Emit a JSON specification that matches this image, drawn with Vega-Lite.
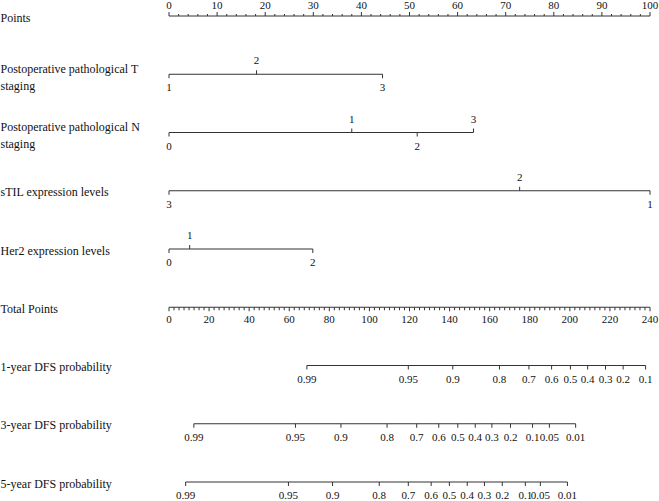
{
  "$schema": "https://vega.github.io/schema/vega-lite/v6.json",
  "width": 481,
  "height": 466,
  "autosize": "none",
  "padding": {"left": 169, "top": 16, "right": 9, "bottom": 19},
  "config": {
    "view": {"stroke": null},
    "font": "Liberation Serif",
    "text": {"font": "Liberation Serif", "fontSize": 11, "color": "#111"},
    "rule": {"color": "#333", "strokeWidth": 1}
  },
  "datasets": {
    "pointsAxis": [
      {"p": 0}, {"p": 2}, {"p": 4}, {"p": 6}, {"p": 8}, {"p": 10}, {"p": 12}, {"p": 14}, {"p": 16}, {"p": 18},
      {"p": 20}, {"p": 22}, {"p": 24}, {"p": 26}, {"p": 28}, {"p": 30}, {"p": 32}, {"p": 34}, {"p": 36}, {"p": 38},
      {"p": 40}, {"p": 42}, {"p": 44}, {"p": 46}, {"p": 48}, {"p": 50}, {"p": 52}, {"p": 54}, {"p": 56}, {"p": 58},
      {"p": 60}, {"p": 62}, {"p": 64}, {"p": 66}, {"p": 68}, {"p": 70}, {"p": 72}, {"p": 74}, {"p": 76}, {"p": 78},
      {"p": 80}, {"p": 82}, {"p": 84}, {"p": 86}, {"p": 88}, {"p": 90}, {"p": 92}, {"p": 94}, {"p": 96}, {"p": 98},
      {"p": 100}
    ],
    "totalAxis": [
      {"t": 0}, {"t": 2.5}, {"t": 5}, {"t": 7.5}, {"t": 10}, {"t": 12.5}, {"t": 15}, {"t": 17.5},
      {"t": 20}, {"t": 22.5}, {"t": 25}, {"t": 27.5}, {"t": 30}, {"t": 32.5}, {"t": 35}, {"t": 37.5},
      {"t": 40}, {"t": 42.5}, {"t": 45}, {"t": 47.5}, {"t": 50}, {"t": 52.5}, {"t": 55}, {"t": 57.5},
      {"t": 60}, {"t": 62.5}, {"t": 65}, {"t": 67.5}, {"t": 70}, {"t": 72.5}, {"t": 75}, {"t": 77.5},
      {"t": 80}, {"t": 82.5}, {"t": 85}, {"t": 87.5}, {"t": 90}, {"t": 92.5}, {"t": 95}, {"t": 97.5},
      {"t": 100}, {"t": 102.5}, {"t": 105}, {"t": 107.5}, {"t": 110}, {"t": 112.5}, {"t": 115}, {"t": 117.5},
      {"t": 120}, {"t": 122.5}, {"t": 125}, {"t": 127.5}, {"t": 130}, {"t": 132.5}, {"t": 135}, {"t": 137.5},
      {"t": 140}, {"t": 142.5}, {"t": 145}, {"t": 147.5}, {"t": 150}, {"t": 152.5}, {"t": 155}, {"t": 157.5},
      {"t": 160}, {"t": 162.5}, {"t": 165}, {"t": 167.5}, {"t": 170}, {"t": 172.5}, {"t": 175}, {"t": 177.5},
      {"t": 180}, {"t": 182.5}, {"t": 185}, {"t": 187.5}, {"t": 190}, {"t": 192.5}, {"t": 195}, {"t": 197.5},
      {"t": 200}, {"t": 202.5}, {"t": 205}, {"t": 207.5}, {"t": 210}, {"t": 212.5}, {"t": 215}, {"t": 217.5},
      {"t": 220}, {"t": 222.5}, {"t": 225}, {"t": 227.5}, {"t": 230}, {"t": 232.5}, {"t": 235}, {"t": 237.5},
      {"t": 240}
    ],
    "vars": [
      {"row": "Postoperative pathological T staging", "level": "1", "pts": 0, "side": "below"},
      {"row": "Postoperative pathological T staging", "level": "2", "pts": 18.2, "side": "above"},
      {"row": "Postoperative pathological T staging", "level": "3", "pts": 44.4, "side": "below"},
      {"row": "Postoperative pathological N staging", "level": "0", "pts": 0, "side": "below"},
      {"row": "Postoperative pathological N staging", "level": "1", "pts": 38.0, "side": "above"},
      {"row": "Postoperative pathological N staging", "level": "2", "pts": 51.6, "side": "below"},
      {"row": "Postoperative pathological N staging", "level": "3", "pts": 63.3, "side": "above"},
      {"row": "sTIL expression levels", "level": "3", "pts": 0, "side": "below"},
      {"row": "sTIL expression levels", "level": "2", "pts": 72.9, "side": "above"},
      {"row": "sTIL expression levels", "level": "1", "pts": 100, "side": "below"},
      {"row": "Her2 expression levels", "level": "0", "pts": 0, "side": "below"},
      {"row": "Her2 expression levels", "level": "1", "pts": 4.3, "side": "above"},
      {"row": "Her2 expression levels", "level": "2", "pts": 29.9, "side": "below"}
    ],
    "prob": [
      {"row": "1-year DFS probability", "label": "0.99", "tp": 68.8},
      {"row": "1-year DFS probability", "label": "0.95", "tp": 119.4},
      {"row": "1-year DFS probability", "label": "0.9", "tp": 141.6},
      {"row": "1-year DFS probability", "label": "0.8", "tp": 164.9},
      {"row": "1-year DFS probability", "label": "0.7", "tp": 179.6},
      {"row": "1-year DFS probability", "label": "0.6", "tp": 190.9},
      {"row": "1-year DFS probability", "label": "0.5", "tp": 200.3},
      {"row": "1-year DFS probability", "label": "0.4", "tp": 208.9},
      {"row": "1-year DFS probability", "label": "0.3", "tp": 217.8},
      {"row": "1-year DFS probability", "label": "0.2", "tp": 226.6},
      {"row": "1-year DFS probability", "label": "0.1", "tp": 237.8},
      {"row": "3-year DFS probability", "label": "0.99", "tp": 12.4},
      {"row": "3-year DFS probability", "label": "0.95", "tp": 63.1},
      {"row": "3-year DFS probability", "label": "0.9", "tp": 85.8},
      {"row": "3-year DFS probability", "label": "0.8", "tp": 108.8},
      {"row": "3-year DFS probability", "label": "0.7", "tp": 123.6},
      {"row": "3-year DFS probability", "label": "0.6", "tp": 134.6},
      {"row": "3-year DFS probability", "label": "0.5", "tp": 144.1},
      {"row": "3-year DFS probability", "label": "0.4", "tp": 152.8},
      {"row": "3-year DFS probability", "label": "0.3", "tp": 161.1},
      {"row": "3-year DFS probability", "label": "0.2", "tp": 170.4},
      {"row": "3-year DFS probability", "label": "0.1", "tp": 181.4},
      {"row": "3-year DFS probability", "label": "0.05", "tp": 189.8},
      {"row": "3-year DFS probability", "label": "0.01", "tp": 202.9},
      {"row": "5-year DFS probability", "label": "0.99", "tp": 8.3},
      {"row": "5-year DFS probability", "label": "0.95", "tp": 59.6},
      {"row": "5-year DFS probability", "label": "0.9", "tp": 81.6},
      {"row": "5-year DFS probability", "label": "0.8", "tp": 104.9},
      {"row": "5-year DFS probability", "label": "0.7", "tp": 119.4},
      {"row": "5-year DFS probability", "label": "0.6", "tp": 130.8},
      {"row": "5-year DFS probability", "label": "0.5", "tp": 139.9},
      {"row": "5-year DFS probability", "label": "0.4", "tp": 148.8},
      {"row": "5-year DFS probability", "label": "0.3", "tp": 157.4},
      {"row": "5-year DFS probability", "label": "0.2", "tp": 166.3},
      {"row": "5-year DFS probability", "label": "0.1", "tp": 177.8},
      {"row": "5-year DFS probability", "label": "0.05", "tp": 185.3},
      {"row": "5-year DFS probability", "label": "0.01", "tp": 198.8}
    ]
  },
  "resolve": {"scale": {"x": "independent"}},
  "layer": [
    {
      "data": {"name": "vars"},
      "mark": {"type": "rule"},
      "encoding": {
        "x": {"aggregate": "min", "field": "pts", "type": "quantitative", "scale": {"domain": [0, 100], "nice": false, "zero": false}, "axis": null},
        "x2": {"aggregate": "max", "field": "pts"},
        "y": {
          "field": "row", "type": "nominal",
          "scale": {"type": "point", "padding": 0, "domain": ["Points", "Postoperative pathological T staging", "Postoperative pathological N staging", "sTIL expression levels", "Her2 expression levels", "Total Points", "1-year DFS probability", "3-year DFS probability", "5-year DFS probability"]},
          "axis": {
            "title": null, "ticks": false, "domain": false, "labelAlign": "left", "labelBaseline": "middle",
            "labelPadding": 169, "labelFont": "Liberation Serif", "labelFontSize": 12, "labelColor": "#111",
            "labelLimit": 0, "labelLineHeight": 17,
            "labelOffset": {"condition": {"test": "indexof(datum.value, 'staging') >= 0", "value": -6}, "value": 1},
            "labelExpr": "datum.value == 'Postoperative pathological T staging' ? ['Postoperative pathological T', 'staging'] : datum.value == 'Postoperative pathological N staging' ? ['Postoperative pathological N', 'staging'] : datum.value"
          }
        }
      }
    },
    {
      "data": {"name": "vars"},
      "transform": [{"filter": "datum.side == 'above'"}],
      "mark": {"type": "rule", "y2Offset": -4},
      "encoding": {
        "x": {"field": "pts", "type": "quantitative", "scale": {"domain": [0, 100], "nice": false, "zero": false}, "axis": null},
        "y": {"field": "row", "type": "nominal"},
        "y2": {"field": "row"}
      }
    },
    {
      "data": {"name": "vars"},
      "transform": [{"filter": "datum.side == 'below'"}],
      "mark": {"type": "rule", "y2Offset": 4},
      "encoding": {
        "x": {"field": "pts", "type": "quantitative", "scale": {"domain": [0, 100], "nice": false, "zero": false}, "axis": null},
        "y": {"field": "row", "type": "nominal"},
        "y2": {"field": "row"}
      }
    },
    {
      "data": {"name": "vars"},
      "transform": [{"filter": "datum.side == 'above'"}],
      "mark": {"type": "text", "dy": -13, "baseline": "middle", "align": "center"},
      "encoding": {
        "x": {"field": "pts", "type": "quantitative", "scale": {"domain": [0, 100], "nice": false, "zero": false}, "axis": null},
        "y": {"field": "row", "type": "nominal"},
        "text": {"field": "level"}
      }
    },
    {
      "data": {"name": "vars"},
      "transform": [{"filter": "datum.side == 'below'"}],
      "mark": {"type": "text", "dy": 14, "baseline": "middle", "align": "center"},
      "encoding": {
        "x": {"field": "pts", "type": "quantitative", "scale": {"domain": [0, 100], "nice": false, "zero": false}, "axis": null},
        "y": {"field": "row", "type": "nominal"},
        "text": {"field": "level"}
      }
    },
    {
      "data": {"name": "pointsAxis"},
      "mark": {"type": "rule"},
      "encoding": {
        "x": {"aggregate": "min", "field": "p", "type": "quantitative", "scale": {"domain": [0, 100], "nice": false, "zero": false}, "axis": null},
        "x2": {"aggregate": "max", "field": "p"},
        "y": {"datum": "Points", "type": "nominal"}
      }
    },
    {
      "data": {"name": "pointsAxis"},
      "transform": [{"filter": "datum.p % 10 == 0"}],
      "mark": {"type": "rule", "y2Offset": -4},
      "encoding": {
        "x": {"field": "p", "type": "quantitative", "scale": {"domain": [0, 100], "nice": false, "zero": false}, "axis": null},
        "y": {"datum": "Points", "type": "nominal"},
        "y2": {"datum": "Points"}
      }
    },
    {
      "data": {"name": "pointsAxis"},
      "transform": [{"filter": "datum.p % 10 != 0"}],
      "mark": {"type": "rule", "y2Offset": -2},
      "encoding": {
        "x": {"field": "p", "type": "quantitative", "scale": {"domain": [0, 100], "nice": false, "zero": false}, "axis": null},
        "y": {"datum": "Points", "type": "nominal"},
        "y2": {"datum": "Points"}
      }
    },
    {
      "data": {"name": "pointsAxis"},
      "transform": [{"filter": "datum.p % 10 == 0"}],
      "mark": {"type": "text", "dy": -10, "baseline": "middle", "align": "center"},
      "encoding": {
        "x": {"field": "p", "type": "quantitative", "scale": {"domain": [0, 100], "nice": false, "zero": false}, "axis": null},
        "y": {"datum": "Points", "type": "nominal"},
        "text": {"field": "p", "type": "quantitative"}
      }
    },
    {
      "data": {"name": "totalAxis"},
      "mark": {"type": "rule"},
      "encoding": {
        "x": {"aggregate": "min", "field": "t", "type": "quantitative", "scale": {"domain": [0, 240], "nice": false, "zero": false}, "axis": null},
        "x2": {"aggregate": "max", "field": "t"},
        "y": {"datum": "Total Points", "type": "nominal"}
      }
    },
    {
      "data": {"name": "totalAxis"},
      "transform": [{"filter": "datum.t % 20 == 0"}],
      "mark": {"type": "rule", "y2Offset": 4},
      "encoding": {
        "x": {"field": "t", "type": "quantitative", "scale": {"domain": [0, 240], "nice": false, "zero": false}, "axis": null},
        "y": {"datum": "Total Points", "type": "nominal"},
        "y2": {"datum": "Total Points"}
      }
    },
    {
      "data": {"name": "totalAxis"},
      "transform": [{"filter": "datum.t % 20 != 0"}],
      "mark": {"type": "rule", "y2Offset": 3},
      "encoding": {
        "x": {"field": "t", "type": "quantitative", "scale": {"domain": [0, 240], "nice": false, "zero": false}, "axis": null},
        "y": {"datum": "Total Points", "type": "nominal"},
        "y2": {"datum": "Total Points"}
      }
    },
    {
      "data": {"name": "totalAxis"},
      "transform": [{"filter": "datum.t % 20 == 0"}],
      "mark": {"type": "text", "dy": 13, "baseline": "middle", "align": "center"},
      "encoding": {
        "x": {"field": "t", "type": "quantitative", "scale": {"domain": [0, 240], "nice": false, "zero": false}, "axis": null},
        "y": {"datum": "Total Points", "type": "nominal"},
        "text": {"field": "t", "type": "quantitative"}
      }
    },
    {
      "data": {"name": "prob"},
      "mark": {"type": "rule"},
      "encoding": {
        "x": {"aggregate": "min", "field": "tp", "type": "quantitative", "scale": {"domain": [0, 240], "nice": false, "zero": false}, "axis": null},
        "x2": {"aggregate": "max", "field": "tp"},
        "y": {"field": "row", "type": "nominal"}
      }
    },
    {
      "data": {"name": "prob"},
      "mark": {"type": "rule", "y2Offset": 4},
      "encoding": {
        "x": {"field": "tp", "type": "quantitative", "scale": {"domain": [0, 240], "nice": false, "zero": false}, "axis": null},
        "y": {"field": "row", "type": "nominal"},
        "y2": {"field": "row"}
      }
    },
    {
      "data": {"name": "prob"},
      "mark": {"type": "text", "dy": 14, "baseline": "middle", "align": "center"},
      "encoding": {
        "x": {"field": "tp", "type": "quantitative", "scale": {"domain": [0, 240], "nice": false, "zero": false}, "axis": null},
        "y": {"field": "row", "type": "nominal"},
        "text": {"field": "label"}
      }
    }
  ]
}
